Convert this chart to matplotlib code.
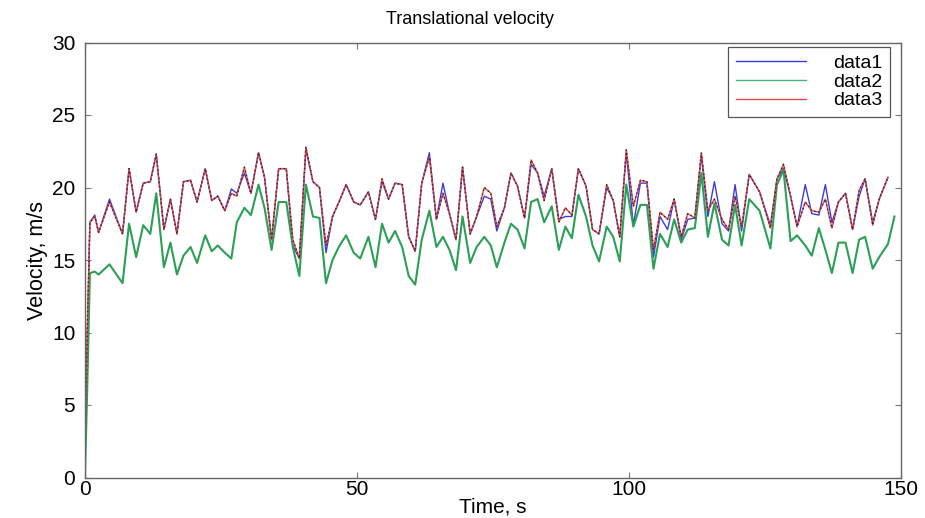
import numpy as np
import matplotlib
matplotlib.use("Agg")
import matplotlib.pyplot as plt

plt.rcParams['font.family'] = ['Liberation Sans', 'DejaVu Sans']

time = [0.0, 0.4, 0.9, 1.8, 2.5, 4.5, 6.9, 8.1, 9.4, 10.7, 12.0, 13.1, 14.5, 15.7, 16.9,
        18.1, 19.4, 20.6, 22.1, 23.3, 24.4, 25.7, 26.9, 27.9, 29.3, 30.5, 31.9, 33.0,
        34.3, 35.6, 37.0, 38.2, 39.4, 40.6, 41.9, 43.1, 44.3, 45.5, 46.8, 48.0, 49.4,
        50.6, 52.1, 53.4, 54.6, 55.8, 57.0, 58.3, 59.5, 60.7, 61.9, 63.3, 64.6, 65.8,
        67.0, 68.2, 69.4, 70.8, 72.0, 73.4, 74.6, 75.7, 77.1, 78.3, 79.5, 80.8, 82.0,
        83.2, 84.4, 85.8, 87.1, 88.3, 89.5, 90.7, 92.1, 93.3, 94.5, 95.9, 97.1, 98.3,
        99.5, 100.8, 102.1, 103.3, 104.5, 105.7, 107.1, 108.3, 109.6, 110.8, 112.1,
        113.3, 114.5, 115.7, 117.1, 118.3, 119.5, 120.7, 122.1, 124.0, 126.0, 127.2,
        128.4, 129.7, 130.9, 132.4, 133.6, 134.9, 136.1, 137.3, 138.5, 139.8, 141.1,
        142.3, 143.4, 144.8, 146.0, 147.6, 148.8]

data1 = [3.0, 9.0, 17.6, 18.1, 16.9, 19.2, 16.8, 21.3, 18.3, 20.3, 20.4, 22.3, 17.1, 19.2, 16.8,
         20.4, 20.5, 19.0, 21.3, 19.1, 19.4, 18.4, 19.9, 19.6, 21.0, 19.6, 22.4, 20.7,
         16.4, 21.3, 21.3, 16.0, 15.1, 22.6, 20.4, 20.0, 15.5, 18.0, 19.1, 20.2, 19.0,
         18.8, 19.7, 17.8, 20.4, 19.2, 20.3, 20.2, 16.6, 15.6, 20.3, 22.4, 17.8, 20.3,
         18.2, 16.4, 21.4, 16.8, 18.0, 19.4, 19.2, 17.0, 18.6, 21.0, 20.1, 17.9, 21.6,
         21.0, 19.4, 21.3, 17.8, 18.0, 18.0, 21.3, 20.1, 17.1, 16.8, 20.0, 19.1, 16.6,
         22.4, 17.4, 20.3, 20.3, 15.2, 18.0, 17.1, 19.2, 16.4, 17.8, 17.9,
         22.2, 18.0, 20.4, 17.5, 17.0, 20.2, 17.0, 20.9, 19.7, 17.4, 20.6,
         21.3, 19.4, 17.3, 20.2, 18.2, 18.1, 20.2, 17.6, 19.0, 19.6, 17.1,
         19.4, 20.6, 17.6, 19.2, 20.7, np.nan]

data2 = [0.2, 6.0, 14.1, 14.2, 14.0, 14.7, 13.4, 17.5, 15.2, 17.4, 16.8, 19.6, 14.5, 16.2, 14.0,
         15.3, 15.9, 14.8, 16.7, 15.6, 16.0, 15.5, 15.1, 17.6, 18.6, 18.1, 20.2, 18.6,
         15.7, 19.0, 19.0, 15.9, 13.9, 20.2, 18.0, 17.9, 13.4, 15.0, 16.0, 16.7, 15.5,
         15.1, 16.6, 14.5, 17.5, 16.2, 17.0, 15.9, 13.9, 13.3, 16.4, 18.4, 15.9, 16.6,
         15.7, 14.3, 18.0, 14.8, 15.9, 16.6, 16.0, 14.5, 16.2, 17.5, 17.1, 15.8, 19.0,
         19.2, 17.6, 18.7, 15.7, 17.3, 16.5, 19.5, 18.0, 16.0, 14.9, 17.3, 16.6, 14.9,
         20.2, 17.3, 18.8, 18.8, 14.4, 16.8, 15.9, 17.8, 16.2, 17.1, 17.2,
         21.0, 16.6, 18.9, 16.4, 16.0, 18.8, 16.0, 19.2, 18.4, 15.8, 20.2,
         21.2, 16.3, 16.7, 16.0, 15.3, 17.2, 15.7, 14.1, 16.2, 16.2, 14.1,
         16.4, 16.6, 14.4, 15.2, 16.1, 18.0]

data3 = [2.5, 10.0, 17.6, 18.0, 16.9, 19.0, 16.8, 21.3, 18.3, 20.3, 20.4, 22.3, 17.1, 19.2, 16.8,
         20.4, 20.5, 19.0, 21.3, 19.1, 19.4, 18.4, 19.6, 19.4, 21.4, 19.6, 22.4, 20.7,
         16.4, 21.3, 21.3, 16.4, 15.1, 22.8, 20.4, 20.0, 16.0, 18.0, 19.1, 20.2, 19.0,
         18.8, 19.7, 17.8, 20.6, 19.2, 20.3, 20.2, 16.6, 15.6, 20.3, 22.1, 17.8, 19.6,
         18.2, 16.4, 21.4, 16.8, 18.0, 20.0, 19.6, 17.3, 18.6, 21.0, 20.1, 17.9, 21.9,
         21.0, 19.1, 21.3, 17.6, 18.6, 18.1, 21.3, 20.1, 17.1, 16.8, 20.2, 19.1, 16.6,
         22.6, 18.7, 20.5, 20.4, 15.7, 18.3, 17.8, 19.2, 16.6, 18.2, 17.9,
         22.4, 18.4, 19.2, 17.8, 17.1, 19.4, 17.3, 20.9, 19.7, 17.2, 20.6,
         21.6, 19.4, 17.3, 19.0, 18.4, 18.3, 19.2, 17.2, 19.0, 19.6, 17.1,
         19.8, 20.6, 17.4, 19.2, 20.7, np.nan]

fig = plt.figure(figsize=(9.25, 5.18), dpi=100)
ax = fig.add_axes([85/925, 1 - 477.5/518, 816/925, 435/518])

ax.plot(time, data1, color='#3b3bdc', lw=1.0, label='data1')
ax.plot(time, data2, color='#2a9f55', lw=1.5, label='data2')
ax.plot(time, data3, color='#e8484a', lw=1.0, label='data3')
ax.plot(time, data3, color='#2a2a2a', lw=1.0, ls=(0, (1, 2)))

ax.set_xlim(0, 150)
ax.set_ylim(0, 30)
ax.set_xticks([0, 50, 100, 150])
ax.set_yticks([0, 5, 10, 15, 20, 25, 30])
ax.tick_params(direction='in', top=True, right=True, labelsize=15,
               length=4, width=0.8, color='#777777')
ax.tick_params(axis='y', pad=7)
ax.tick_params(axis='x', pad=2)
for s in ax.spines.values():
    s.set_color('#666666')
    s.set_linewidth(1.0)

ax.set_title('Translational velocity', fontsize=13, pad=13, x=0.472)
ax.set_xlabel('Time, s', fontsize=15, labelpad=-1)
ax.set_ylabel('Velocity, m/s', fontsize=15.5, labelpad=3)

leg = ax.legend(loc='upper right', bbox_to_anchor=(0.987, 0.99), borderaxespad=0,
                fontsize=14, handlelength=3.6, fancybox=False, edgecolor='#555555',
                framealpha=1, borderpad=0.4, labelspacing=0.05, handletextpad=1.4)
leg.get_frame().set_linewidth(0.9)
for h in leg.get_lines():
    h.set_linewidth(1.0)
leg.get_lines()[1].set_color('#3fb77a')

fig.savefig('out.png', dpi=100)
